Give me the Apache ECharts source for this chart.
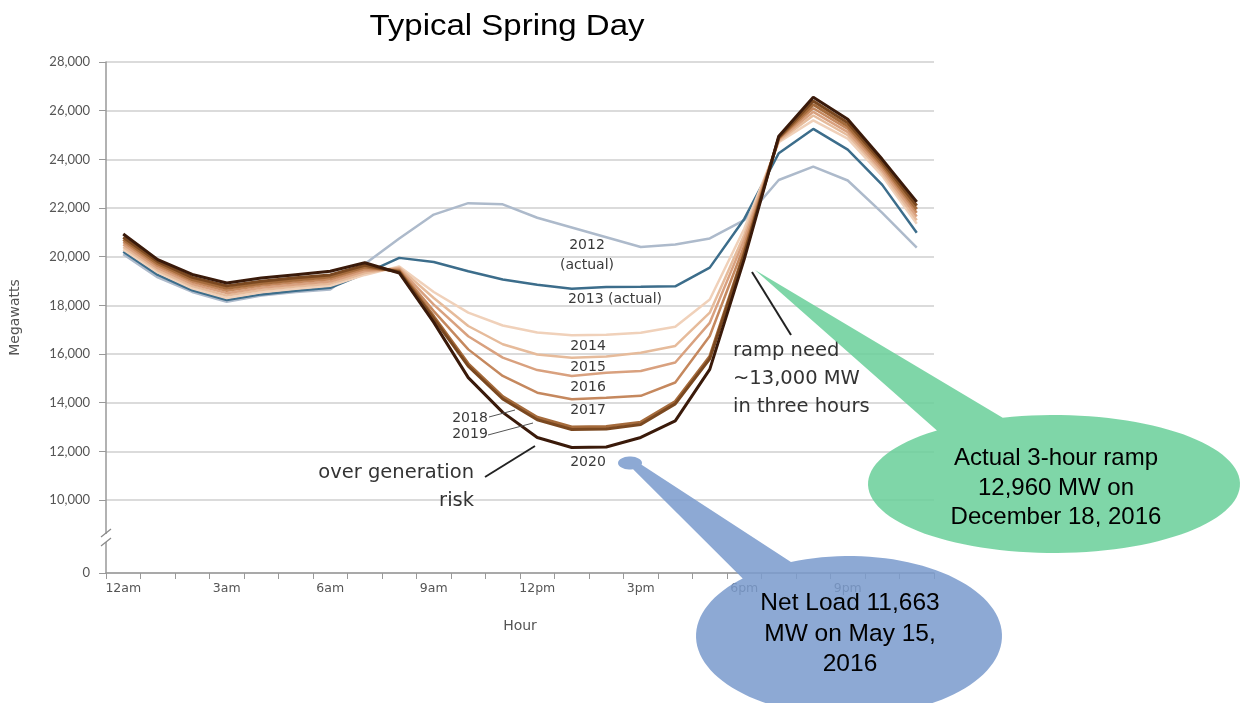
<!DOCTYPE html>
<html>
<head>
<meta charset="utf-8">
<title>Typical Spring Day</title>
<script src="https://cdn.jsdelivr.net/npm/echarts@6/dist/echarts.min.js"></script>
<style>
  html, body { margin: 0; padding: 0; background: #fff; }
  #chart { width: 1241px; height: 703px; }
</style>
</head>
<body>
<div id="chart"></div>
<script>
// x categories: hour of day
const hours = ['12am', '1am', '2am', '3am', '4am', '5am', '6am', '7am', '8am', '9am', '10am', '11am',
  '12pm', '1pm', '2pm', '3pm', '4pm', '5pm', '6pm', '7pm', '8pm', '9pm', '10pm', '11pm']
// y tick labels (axis is broken between 0 and 10,000)
const yTicks = [0, 10000, 12000, 14000, 16000, 18000, 20000, 22000, 24000, 26000, 28000]

// net load, MW
const load2012 = [20100, 19150, 18550, 18150, 18400, 18550, 18650, 19700, 20750, 21730, 22200, 22150,
  21600, 21200, 20800, 20400, 20500, 20750, 21500, 23150, 23700, 23130, 21800, 20370]
const load2013 = [20200, 19250, 18620, 18220, 18450, 18600, 18720, 19300, 19950, 19780, 19400, 19060,
  18850, 18680, 18750, 18760, 18780, 19550, 21550, 24250, 25250, 24400, 22950, 20980]
const load2014 = [20300, 19350, 18700, 18300, 18540, 18680, 18800, 19250, 19600, 18550, 17700, 17170,
  16880, 16770, 16790, 16870, 17120, 18240, 21150, 24700, 25600, 24850, 23320, 21350]
const load2015 = [20400, 19440, 18790, 18400, 18630, 18770, 18890, 19330, 19550, 18300, 17150, 16400,
  15980, 15850, 15900, 16050, 16330, 17700, 20900, 24750, 25800, 24990, 23450, 21500]
const load2016 = [20500, 19530, 18880, 18500, 18720, 18860, 18980, 19410, 19500, 18030, 16730, 15850,
  15340, 15100, 15230, 15300, 15650, 17280, 20700, 24800, 25950, 25120, 23560, 21650]
const load2017 = [20600, 19620, 18970, 18600, 18810, 18950, 19070, 19490, 19450, 17760, 16190, 15100,
  14410, 14140, 14200, 14280, 14830, 16740, 20450, 24850, 26100, 25250, 23670, 21800]
const load2018 = [20700, 19710, 19060, 18700, 18900, 19040, 19160, 19570, 19400, 17550, 15600, 14250,
  13400, 13000, 13020, 13200, 14050, 15900, 20200, 24880, 26250, 25370, 23780, 21950]
const load2019 = [20800, 19800, 19150, 18800, 18990, 19130, 19250, 19650, 19370, 17450, 15500, 14150,
  13300, 12900, 12920, 13100, 13950, 15800, 20100, 24900, 26400, 25500, 23890, 22100]
const load2020 = [20930, 19880, 19270, 18920, 19120, 19260, 19400, 19750, 19330, 17300, 15030, 13600,
  12570, 12160, 12180, 12570, 13250, 15370, 19900, 24950, 26550, 25650, 24000, 22250]

const years = ['2012', '2013', '2014', '2015', '2016', '2017', '2018', '2019', '2020']
const loads = [load2012, load2013, load2014, load2015, load2016, load2017, load2018, load2019, load2020]

// styling
const lineColors = ['#adbacb', '#3c6d8b', '#f0d1ba', '#e6bb9b', '#d9a17f', '#c5885e', '#a56b3c', '#7a4820', '#3a1a0a']
const lineWidths = [2.5, 2.5, 2.5, 2.5, 2.5, 2.5, 3, 3, 3]
const AXIS_FLOOR = 7000 // where the "0" label sits below the axis break
const chartFont = '"DejaVu Sans", sans-serif'
const calloutFont = '"Liberation Sans", Arial, sans-serif'

const myChart = echarts.init(document.getElementById('chart'))

function ellPt(cx, cy, rx, ry, deg) {
  const a = deg * Math.PI / 180
  return [cx + rx * Math.cos(a), cy + ry * Math.sin(a)]
}

// callout outline: big ellipse + tail (+ small dot at the tip) as one simple polygon,
// so the translucent fill is painted only once
function calloutPoints(tip, cx, cy, rx, ry, degA, degB, dot) {
  const pts = []
  if (dot) pts.push(ellPt(dot[0], dot[1], dot[2], dot[3], 15))
  else pts.push(tip)
  const end = degB + 360
  for (let d = degA; d < end; d += 3) pts.push(ellPt(cx, cy, rx, ry, d))
  pts.push(ellPt(cx, cy, rx, ry, end))
  if (dot) {
    for (let d = 75; d <= 375; d += 10) pts.push(ellPt(dot[0], dot[1], dot[2], dot[3], d))
  }
  return pts
}

function label(text, x, y, size, align, color) {
  return {
    type: 'text', x: x, y: y, z: 50,
    style: {
      text: text, fill: color || '#3a3a3a',
      font: size + 'px ' + chartFont,
      textAlign: align || 'center',
      textVerticalAlign: 'middle',
      lineHeight: size * 1.42
    }
  }
}

function seg(x1, y1, x2, y2, color, w) {
  return { type: 'line', z: 50, shape: { x1: x1, y1: y1, x2: x2, y2: y2 }, style: { stroke: color, lineWidth: w } }
}

const yTickValues = yTicks.map(function(v) { return v === 0 ? AXIS_FLOOR : v })

const option = {
  animation: false,
  backgroundColor: '#fff',
  grid: { left: 106, right: 307, top: 62, bottom: 130, containLabel: false },
  xAxis: {
    type: 'category',
    data: hours,
    boundaryGap: true,
    name: 'Hour',
    nameLocation: 'middle',
    nameGap: 46,
    nameTextStyle: { fontFamily: chartFont, fontSize: 14, color: '#555' },
    axisLine: { lineStyle: { color: '#999', width: 1.5 } },
    axisTick: { show: true, interval: 0, length: 6, lineStyle: { color: '#999' } },
    axisLabel: { interval: 2, fontFamily: chartFont, fontSize: 12.5, color: '#555', margin: 9 },
    splitLine: { show: false }
  },
  yAxis: {
    type: 'value',
    min: AXIS_FLOOR,
    max: 28000,
    name: 'Megawatts',
    nameLocation: 'middle',
    nameGap: 84,
    nameTextStyle: { fontFamily: chartFont, fontSize: 14, color: '#555' },
    axisLine: { show: true, lineStyle: { color: '#999', width: 1.5 } },
    axisTick: { show: true, length: 7, customValues: yTickValues, lineStyle: { color: '#999' } },
    axisLabel: {
      customValues: yTickValues,
      fontFamily: 'Lato, sans-serif',
      fontSize: 13,
      color: '#555',
      margin: 16,
      formatter: function(v) { return v === AXIS_FLOOR ? '0' : v.toLocaleString('en-US') }
    },
    splitLine: { show: true, lineStyle: { color: '#cfcfcf', width: 1.5 } }
  },
  series: years.map(function(y, i) {
    return {
      name: y,
      type: 'line',
      data: loads[i],
      symbol: 'none',
      smooth: false,
      z: 3 + i,
      lineStyle: { color: lineColors[i], width: lineWidths[i] }
    }
  }),
  graphic: [
    // title (source picture is slightly stretched horizontally)
    {
      type: 'text', x: 507, y: 27, scaleX: 1.1, z: 50,
      style: {
        text: 'Typical Spring Day', fill: '#000', font: '30px ' + calloutFont,
        textAlign: 'center', textVerticalAlign: 'middle'
      }
    },
    // axis break mark
    { type: 'rect', z: 40, shape: { x: 100, y: 534, width: 12, height: 8 }, style: { fill: '#fff' } },
    seg(101, 537, 111, 529, '#888', 1.2),
    seg(101, 546, 111, 538, '#888', 1.2),
    // year labels
    label('2012', 587, 245, 14),
    label('(actual)', 587, 265, 14),
    label('2013 (actual)', 615, 299, 14),
    label('2014', 588, 346, 14),
    label('2015', 588, 367, 14),
    label('2016', 588, 387, 14),
    label('2017', 588, 410, 14),
    label('2020', 588, 462, 14),
    label('2018', 470, 418, 14),
    label('2019', 470, 434, 14),
    seg(489, 417, 515, 410, '#555', 1),
    seg(488, 435, 533, 423, '#555', 1),
    // commentary
    label('over generation\nrisk', 474, 487, 19.5, 'right', '#333'),
    seg(485, 477, 535, 446, '#222', 2),
    label('ramp need\n~13,000 MW\nin three hours', 733, 379, 19.5, 'left', '#333'),
    seg(752, 272, 791, 335, '#222', 2),
    // green callout
    {
      type: 'polygon', z: 60,
      shape: { points: calloutPoints([755, 270], 1054, 484, 186, 69, 254, 231) },
      style: { fill: 'rgba(106,207,154,0.86)' }
    },
    {
      type: 'text', x: 1056, y: 488, z: 61,
      style: {
        text: 'Actual 3-hour ramp\n12,960 MW on\nDecember 18, 2016',
        fill: '#000', font: '24px ' + calloutFont, lineHeight: 29.5,
        textAlign: 'center', textVerticalAlign: 'middle'
      }
    },
    // blue callout
    {
      type: 'polygon', z: 60,
      shape: { points: calloutPoints([628, 463], 849, 636, 153, 80, 247.7, 226, [630, 463, 12, 6.5]) },
      style: { fill: 'rgba(122,155,205,0.86)' }
    },
    {
      type: 'text', x: 850, y: 634, z: 61,
      style: {
        text: 'Net Load 11,663\nMW on May 15,\n2016',
        fill: '#000', font: '24.5px ' + calloutFont, lineHeight: 30.5,
        textAlign: 'center', textVerticalAlign: 'middle'
      }
    }
  ]
}

myChart.setOption(option)
</script>
</body>
</html>
